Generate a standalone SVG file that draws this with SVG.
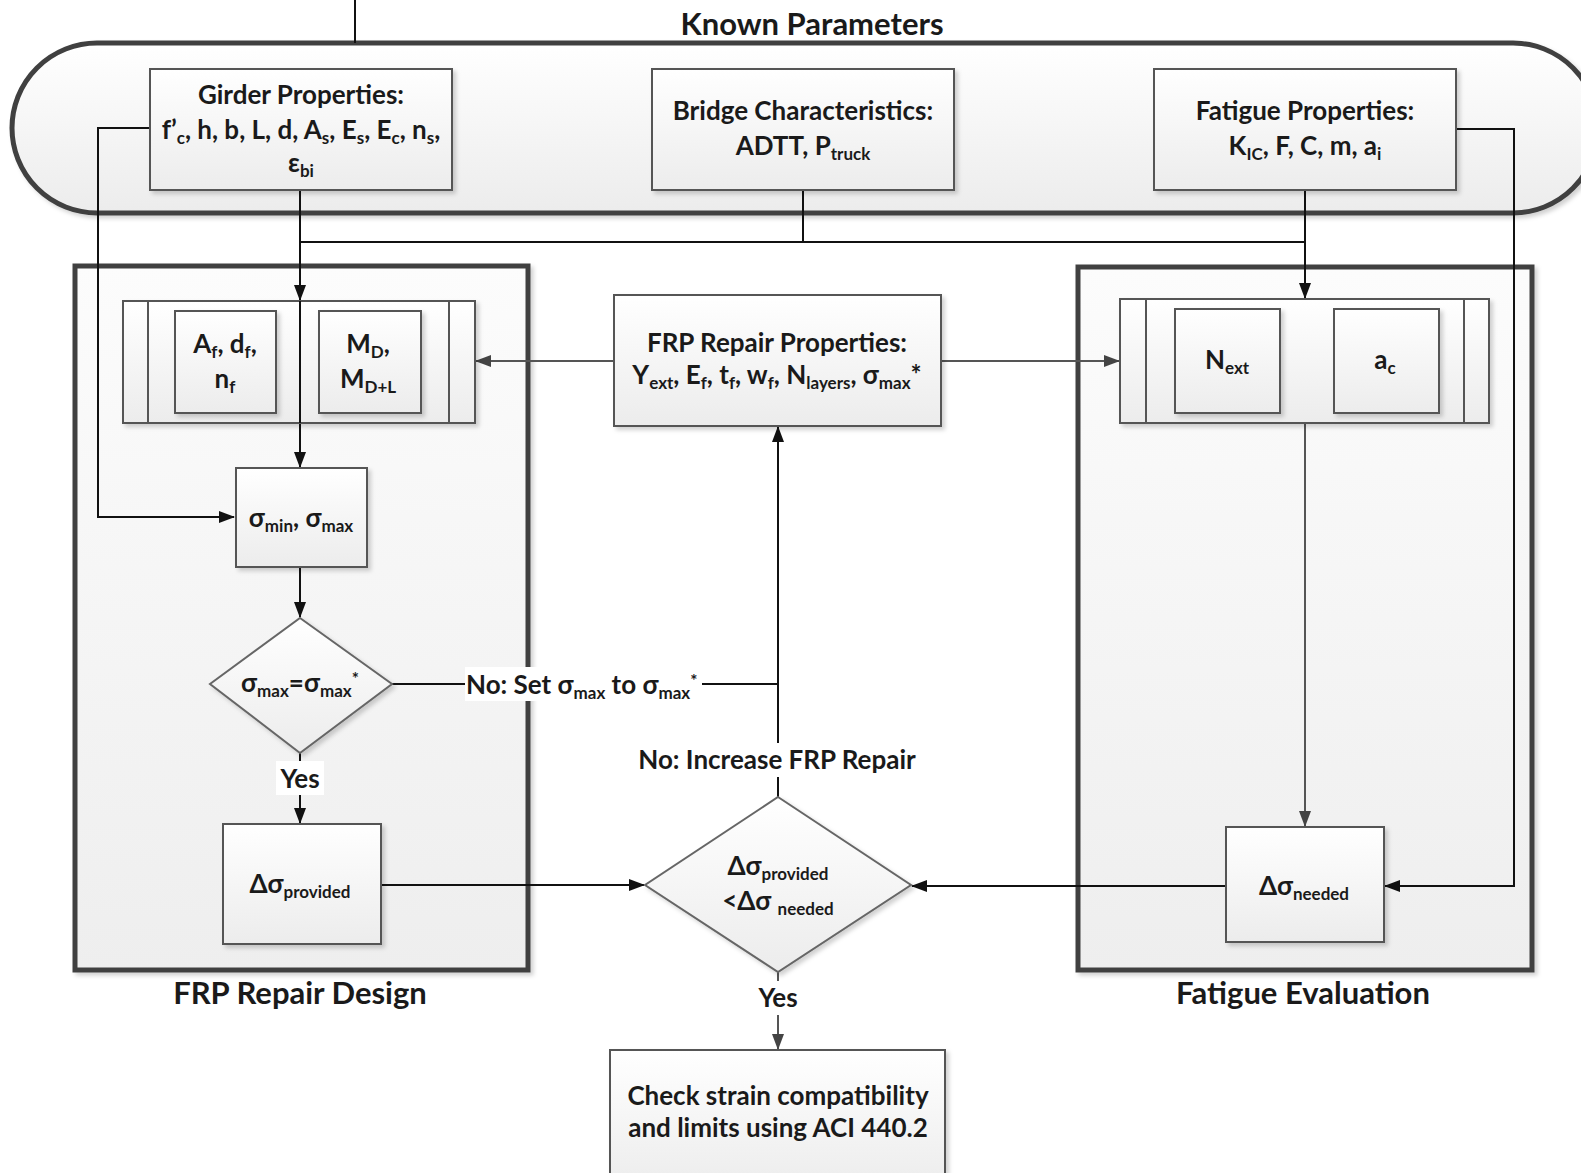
<svg xmlns="http://www.w3.org/2000/svg" width="1581" height="1173" viewBox="0 0 1581 1173">
<defs>
<linearGradient id="gBox" x1="0" y1="0" x2="0" y2="1"><stop offset="0" stop-color="#ffffff"/><stop offset="1" stop-color="#ececec"/></linearGradient>
<linearGradient id="gPanel" x1="0" y1="0" x2="0" y2="1"><stop offset="0" stop-color="#fcfcfc"/><stop offset="1" stop-color="#eeeeee"/></linearGradient>
<filter id="sh" x="-5%" y="-5%" width="115%" height="115%"><feDropShadow dx="3" dy="3" stdDeviation="2" flood-color="#000" flood-opacity="0.18"/></filter>
<marker id="ah" markerWidth="16" markerHeight="12" refX="15" refY="6" orient="auto" markerUnits="userSpaceOnUse"><path d="M0,0 L16,6 L0,12 Z" fill="#111"/></marker>
<marker id="ahg" markerWidth="16" markerHeight="12" refX="15" refY="6" orient="auto" markerUnits="userSpaceOnUse"><path d="M0,0 L16,6 L0,12 Z" fill="#444"/></marker>
<style>
text{font-family:Lato,"Liberation Sans",sans-serif;font-weight:bold;fill:#1a1a1a;}
.t{font-size:26px;text-anchor:middle;}
.big{font-size:31px;text-anchor:middle;}
.s{font-size:17px;baseline-shift:-5px;}
.sp{font-size:17px;baseline-shift:7px;}
.box{fill:url(#gBox);stroke:#555;stroke-width:2;filter:url(#sh);}
.panel{fill:url(#gPanel);stroke:#404040;stroke-width:5;filter:url(#sh);}
.cont{fill:url(#gBox);stroke:#555;stroke-width:2;filter:url(#sh);}
.ln{fill:none;stroke:#111;stroke-width:2;}
.lg{fill:none;stroke:#555;stroke-width:2;}
.bg{fill:#fff;}
</style>
</defs>
<rect width="1581" height="1173" fill="#fff"/>

<g id="known-parameters">
<rect x="12" y="43" width="1586" height="170" rx="85" ry="85" fill="url(#gBox)" stroke="#404040" stroke-width="5" filter="url(#sh)"/>
<text class="big" x="812" y="35">Known Parameters</text>
</g>

<g id="frp-repair-design-panel">
<rect class="panel" x="75" y="266" width="453" height="704"/>
<text class="big" x="300" y="1004">FRP Repair Design</text>
</g>
<g id="fatigue-evaluation-panel">
<rect class="panel" x="1078" y="267" width="454" height="703"/>
<text class="big" x="1303" y="1004">Fatigue Evaluation</text>
</g>

<g id="connectors">
<path class="ln" d="M355,0 V43"/>
<path class="ln" d="M150,128 H98 V517 H234" marker-end="url(#ah)"/>
<path class="ln" d="M300,190 V300" stroke-width="3" marker-end="url(#ah)"/>
<path class="ln" d="M803,190 V242"/>
<path class="ln" d="M300,242 H1305"/>
<path class="ln" d="M1305,190 V298" marker-end="url(#ah)"/>
<path class="ln" d="M1456,129 H1514 V886 H1385" marker-end="url(#ah)"/>
<path class="ln" d="M300,300 V467" marker-end="url(#ah)"/>
<path class="lg" d="M614,361 H476" marker-end="url(#ahg)"/>
<path class="lg" d="M941,361 H1119" marker-end="url(#ahg)"/>
<path class="ln" d="M300,567 V617" marker-end="url(#ah)"/>
<path class="ln" d="M392,684 H778"/>
<path class="ln" d="M778,797 V427" marker-end="url(#ah)"/>
<path class="ln" d="M300,753 V823" marker-end="url(#ah)"/>
<path class="ln" d="M381,885 H644" marker-end="url(#ah)"/>
<path class="ln" d="M1226,886 H912" marker-end="url(#ah)"/>
<path class="lg" d="M1305,423 V826" marker-end="url(#ahg)"/>
<path class="lg" d="M778,972 V1049" marker-end="url(#ahg)"/>
<rect class="bg" x="465" y="667" width="237" height="34"/>
<text x="466" y="694" style="font-size:26px">No: Set σ<tspan class="s">max</tspan> to σ<tspan class="s">max</tspan><tspan class="sp">*</tspan></text>
<rect class="bg" x="276" y="761" width="48" height="34"/>
<text class="t" x="300" y="788">Yes</text>
<rect class="bg" x="636" y="743" width="284" height="34"/>
<text class="t" x="777" y="769">No: Increase FRP Repair</text>
<rect class="bg" x="748" y="981" width="60" height="34"/>
<text class="t" x="778" y="1007">Yes</text>
</g>

<g id="girder-properties">
<rect class="box" x="150" y="69" width="302" height="121"/>
<text class="t" x="301" y="104">Girder Properties:</text>
<text class="t" x="301" y="139">f’<tspan class="s">c</tspan>, h, b, L, d, A<tspan class="s">s</tspan>, E<tspan class="s">s</tspan>, E<tspan class="s">c</tspan>, n<tspan class="s">s</tspan>,</text>
<text class="t" x="301" y="172">ε<tspan class="s">bi</tspan></text>
</g>

<g id="bridge-characteristics">
<rect class="box" x="652" y="69" width="302" height="121"/>
<text class="t" x="803" y="120">Bridge Characteristics:</text>
<text class="t" x="803" y="155">ADTT,  P<tspan class="s">truck</tspan></text>
</g>

<g id="fatigue-properties">
<rect class="box" x="1154" y="69" width="302" height="121"/>
<text class="t" x="1305" y="120">Fatigue Properties:</text>
<text class="t" x="1305" y="155">K<tspan class="s">IC</tspan>, F, C, m, a<tspan class="s">i</tspan></text>
</g>

<g id="frp-design-inputs">
<rect class="cont" x="123" y="301" width="352" height="122"/>
<path d="M148,301 V423 M449,301 V423" stroke="#555" stroke-width="2"/>
<rect class="box" x="175" y="311" width="101" height="102"/>
<rect class="box" x="319" y="311" width="102" height="102"/>
<text class="t" x="225" y="353">A<tspan class="s">f</tspan>, d<tspan class="s">f</tspan>,</text>
<text class="t" x="225" y="388">n<tspan class="s">f</tspan></text>
<text class="t" x="368" y="353">M<tspan class="s">D</tspan>,</text>
<text class="t" x="368" y="388">M<tspan class="s">D+L</tspan></text>
<path class="ln" d="M300,301 V423"/>
</g>

<g id="frp-repair-properties">
<rect class="box" x="614" y="295" width="327" height="131"/>
<text class="t" x="777" y="352">FRP Repair Properties:</text>
<text class="t" x="777" y="384">Y<tspan class="s">ext</tspan>, E<tspan class="s">f</tspan>, t<tspan class="s">f</tspan>, w<tspan class="s">f</tspan>, N<tspan class="s">layers</tspan>, σ<tspan class="s">max</tspan>*</text>
</g>

<g id="fatigue-inputs">
<rect class="cont" x="1120" y="299" width="369" height="124"/>
<path d="M1146,299 V423 M1464,299 V423" stroke="#555" stroke-width="2"/>
<rect class="box" x="1175" y="309" width="105" height="104"/>
<rect class="box" x="1334" y="309" width="105" height="104"/>
<text class="t" x="1227" y="369">N<tspan class="s">ext</tspan></text>
<text class="t" x="1385" y="369">a<tspan class="s">c</tspan></text>
</g>

<g id="sigma-min-max">
<rect class="box" x="236" y="468" width="131" height="99"/>
<text class="t" x="301" y="527">σ<tspan class="s">min</tspan>, σ<tspan class="s">max</tspan></text>
</g>

<g id="sigma-check">
<polygon points="300,618 392,684 300,753 210,684" fill="url(#gBox)" stroke="#666" stroke-width="2" filter="url(#sh)"/>
<text class="t" x="300" y="692">σ<tspan class="s">max</tspan>=σ<tspan class="s">max</tspan><tspan class="sp">*</tspan></text>
</g>

<g id="delta-provided">
<rect class="box" x="223" y="824" width="158" height="120"/>
<text class="t" x="300" y="893">Δσ<tspan class="s">provided</tspan></text>
</g>

<g id="compare">
<polygon points="778,797 911,885 778,972 645,885" fill="url(#gBox)" stroke="#666" stroke-width="2" filter="url(#sh)"/>
<text class="t" x="778" y="875">Δσ<tspan class="s">provided</tspan></text>
<text class="t" x="778" y="910">&lt;Δσ <tspan class="s">needed</tspan></text>
</g>

<g id="delta-needed">
<rect class="box" x="1226" y="827" width="158" height="115"/>
<text class="t" x="1304" y="895">Δσ<tspan class="s">needed</tspan></text>
</g>

<g id="check-strain">
<rect class="box" x="610" y="1050" width="335" height="140"/>
<text class="t" x="778" y="1105">Check strain compatibility</text>
<text class="t" x="778" y="1137">and limits using ACI 440.2</text>
</g>
</svg>
